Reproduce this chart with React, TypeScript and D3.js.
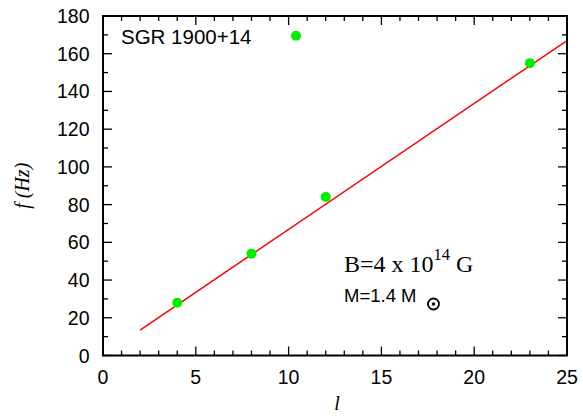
import React from "react";
import * as d3 from "d3";

// Observed oscillation frequencies of SGR 1900+14 against mode number l
const modeL = [4, 8, 12, 23, 10.4];
const freqHz = [28, 54, 84, 155, 169.5];

// Model torsional-mode line (B = 4e14 G, M = 1.4 Msun)
const modelL = [2, 25];
const modelF = [13.5, 167];

const xTicks = [0, 5, 10, 15, 20, 25];
const yTicks = [0, 20, 40, 60, 80, 100, 120, 140, 160, 180];

const W = 583;
const H = 416;
const m = { left: 103, right: 567, top: 16, bottom: 355.5 };

export default function App() {
  const x = d3.scaleLinear().domain([0, 25]).range([m.left, m.right]);
  const y = d3.scaleLinear().domain([0, 180]).range([m.bottom, m.top]);

  const minorX = d3.range(0, 26, 1).filter((v) => v % 5 !== 0);
  const minorY = d3.range(0, 181, 10).filter((v) => v % 20 !== 0);

  const line = d3
    .line<number>()
    .x((_, i) => x(modelL[i]))
    .y((d) => y(d));

  const sans = "'Liberation Sans', Arial, sans-serif";
  const serif = "'Liberation Serif', 'Times New Roman', serif";
  const major = 9;
  const minor = 5;

  return (
    <svg width={W} height={H} style={{ position: "absolute", left: 0, top: 0 }}>
      <rect width={W} height={H} fill="#fff" />

      {/* model line */}
      <path d={line(modelF) || ""} fill="none" stroke="#ff0000" strokeWidth={1.5} />

      {/* data points */}
      {modeL.map((l, i) => (
        <circle key={i} cx={x(l)} cy={y(freqHz[i])} r={5} fill="#00ee00" />
      ))}

      {/* ticks on all four sides, pointing inward */}
      <g stroke="#000" strokeWidth={1.3}>
        {xTicks.map((t) => (
          <g key={"xt" + t}>
            <line x1={x(t)} x2={x(t)} y1={m.bottom} y2={m.bottom - major} />
            <line x1={x(t)} x2={x(t)} y1={m.top} y2={m.top + major} />
          </g>
        ))}
        {minorX.map((t) => (
          <g key={"xm" + t}>
            <line x1={x(t)} x2={x(t)} y1={m.bottom} y2={m.bottom - minor} />
            <line x1={x(t)} x2={x(t)} y1={m.top} y2={m.top + minor} />
          </g>
        ))}
        {yTicks.map((t) => (
          <g key={"yt" + t}>
            <line x1={m.left} x2={m.left + major} y1={y(t)} y2={y(t)} />
            <line x1={m.right} x2={m.right - major} y1={y(t)} y2={y(t)} />
          </g>
        ))}
        {minorY.map((t) => (
          <g key={"ym" + t}>
            <line x1={m.left} x2={m.left + minor} y1={y(t)} y2={y(t)} />
            <line x1={m.right} x2={m.right - minor} y1={y(t)} y2={y(t)} />
          </g>
        ))}
      </g>

      {/* frame */}
      <rect
        x={m.left}
        y={m.top}
        width={m.right - m.left}
        height={m.bottom - m.top}
        fill="none"
        stroke="#000"
        strokeWidth={2}
      />

      {/* tick labels */}
      <g fontFamily={sans} fontSize={19.5} fill="#000">
        {xTicks.map((t) => (
          <text key={"xl" + t} x={x(t)} y={383.5} textAnchor="middle">
            {t}
          </text>
        ))}
        {yTicks.map((t) => (
          <text key={"yl" + t} x={89.5} y={y(t) + 7} textAnchor="end">
            {t}
          </text>
        ))}
      </g>

      {/* axis titles */}
      <text
        transform={`translate(29, ${(m.top + m.bottom) / 2}) rotate(-90)`}
        textAnchor="middle"
        fontFamily={serif}
        fontStyle="italic"
        fontSize={20}
      >
        f (Hz)
      </text>
      <text x={337} y={410} textAnchor="middle" fontFamily={serif} fontStyle="italic" fontSize={20}>
        l
      </text>

      {/* annotations */}
      <text x={121} y={43.5} fontFamily={sans} fontSize={20.5}>
        SGR 1900+14
      </text>
      <text x={344} y={272} fontFamily={serif} fontSize={24}>
        B=4 x 10
        <tspan dy={-12} fontSize={16.5}>
          14
        </tspan>
        <tspan dy={12}> G</tspan>
      </text>
      <text x={344} y={302} fontFamily={sans} fontSize={18.5}>
        M=1.4 M
      </text>
      <circle cx={433.5} cy={304} r={5.5} fill="none" stroke="#000" strokeWidth={1.8} />
      <circle cx={433.5} cy={304} r={1.8} fill="#000" />
    </svg>
  );
}
